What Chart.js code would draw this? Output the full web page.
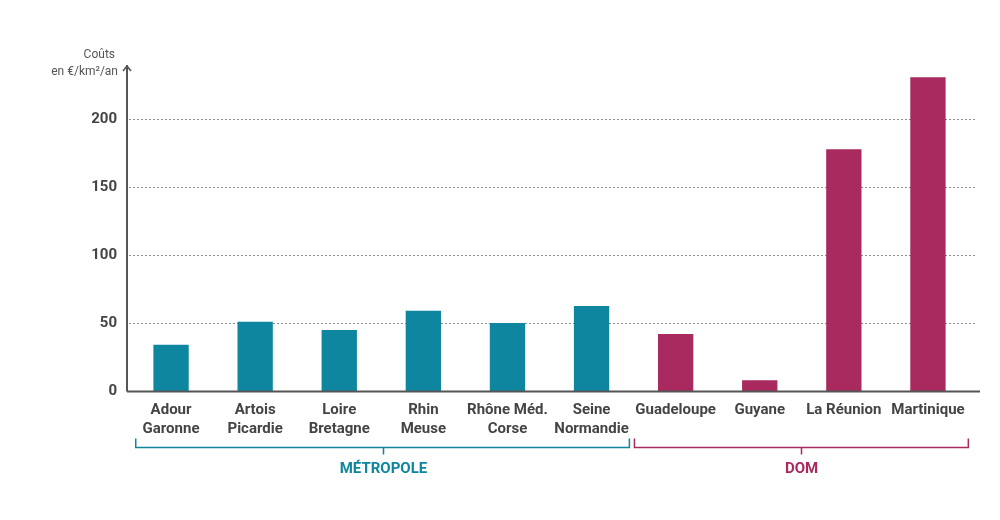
<!DOCTYPE html>
<html>
<head>
<meta charset="utf-8">
<script src="https://cdn.jsdelivr.net/npm/chart.js@4"></script>
<style>
    html, body { margin: 0; padding: 0; background: #fff; }
    #wrap { width: 1000px; height: 520px; }
</style>
</head>
<body>
<div id="wrap"><canvas id="costGraph" width="1000" height="520"></canvas></div>
<script>
const regions = [
    ["Adour", "Garonne"],
    ["Artois", "Picardie"],
    ["Loire", "Bretagne"],
    ["Rhin", "Meuse"],
    ["Rhône Méd.", "Corse"],
    ["Seine", "Normandie"],
    "Guadeloupe",
    "Guyane",
    "La Réunion",
    "Martinique"
];
const costs = [34, 51, 45, 59, 50, 62.5, 42, 8, 178, 231];
const groups = ["métropole", "métropole", "métropole", "métropole", "métropole", "métropole", "dom", "dom", "dom", "dom"];
const yTicks = [0, 50, 100, 150, 200];

const teal = "#0e86a0";
const crimson = "#a82a5f";
const textGrey = "#444444";

// brackets under the axis, start/end in category index units
const brackets = [
    { label: "MÉTROPOLE", from: -0.42, to: 5.45, color: teal },
    { label: "DOM", from: 5.51, to: 9.48, color: crimson }
];

const decorations = {
    id: "decorations",
    beforeDatasetsDraw(chart) {
        const ctx = chart.ctx;
        const area = chart.chartArea;
        const y = chart.scales.y;
        ctx.save();
        ctx.strokeStyle = "#8a8a8a";
        ctx.lineWidth = 1;
        ctx.setLineDash([2, 2]);
        yTicks.forEach(v => {
            if (v === 0) return;
            const py = Math.round(y.getPixelForValue(v)) + 0.5;
            ctx.beginPath();
            ctx.moveTo(area.left, py);
            ctx.lineTo(area.right + 6, py);
            ctx.stroke();
        });
        ctx.restore();
    },
    afterDatasetsDraw(chart) {
        const ctx = chart.ctx;
        const area = chart.chartArea;
        const x = chart.scales.x;
        const y = chart.scales.y;
        const base = Math.round(y.getPixelForValue(0)) + 0.5;
        ctx.save();
        ctx.strokeStyle = "#555555";
        ctx.lineWidth = 2;
        // x axis
        ctx.beginPath();
        ctx.moveTo(area.left - 2, base);
        ctx.lineTo(area.right + 10, base);
        ctx.stroke();
        // y axis with arrow
        const ax = area.left - 2;
        ctx.beginPath();
        ctx.moveTo(ax, base);
        ctx.lineTo(ax, area.top);
        ctx.stroke();
        ctx.lineWidth = 1.6;
        ctx.beginPath();
        ctx.moveTo(ax - 4, area.top + 6);
        ctx.lineTo(ax, area.top + 1);
        ctx.lineTo(ax + 4, area.top + 6);
        ctx.stroke();

        // axis title
        ctx.fillStyle = "#555555";
        ctx.font = "12px Roboto";
        ctx.textAlign = "right";
        ctx.textBaseline = "middle";
        ctx.fillText("Coûts", ax - 12, area.top - 10);
        ctx.fillText("en €/km²/an", ax - 9, area.top + 7);

        // group brackets
        const by = 447.5;
        brackets.forEach(b => {
            const x1 = x.getPixelForValue(b.from);
            const x2 = x.getPixelForValue(b.to);
            const mid = Math.round((x1 + x2) / 2) + 0.5;
            ctx.strokeStyle = b.color;
            ctx.lineWidth = 1.5;
            ctx.beginPath();
            ctx.moveTo(x1, by - 9);
            ctx.lineTo(x1, by);
            ctx.lineTo(x2, by);
            ctx.lineTo(x2, by - 9);
            ctx.moveTo(mid, by);
            ctx.lineTo(mid, by + 7);
            ctx.stroke();
            ctx.fillStyle = b.color;
            ctx.font = "bold 15px Roboto";
            ctx.textAlign = "center";
            ctx.fillText(b.label, mid, 469);
        });
        ctx.restore();
    }
};

const costGraph = document.getElementById("costGraph");

const costChart = new Chart(costGraph, {
    type: "bar",
    data: {
        labels: regions,
        datasets: [{
            label: "Coûts",
            data: costs,
            backgroundColor: groups.map(g => g === "dom" ? crimson : teal),
            barPercentage: 0.42,
            categoryPercentage: 1
        }]
    },
    options: {
        responsive: false,
        animation: false,
        layout: {
            padding: { top: 65, right: 30, bottom: 0, left: 0 }
        },
        plugins: {
            legend: { display: false },
            tooltip: { enabled: false }
        },
        scales: {
            x: {
                grid: { display: false, drawTicks: false },
                border: { display: false },
                ticks: {
                    color: textGrey,
                    padding: 9,
                    maxRotation: 0,
                    autoSkip: false,
                    font: { family: "Roboto", size: 15, weight: "bold", lineHeight: 1.3 }
                },
                afterFit: scale => { scale.height = 129; }
            },
            y: {
                min: 0,
                max: 240,
                grid: { display: false, drawTicks: false },
                border: { display: false },
                afterBuildTicks: scale => {
                    scale.ticks = yTicks.map(v => ({ value: v }));
                },
                ticks: {
                    color: textGrey,
                    padding: 12,
                    font: { family: "Roboto", size: 15, weight: "bold" }
                },
                afterFit: scale => { scale.width = 129; }
            }
        }
    },
    plugins: [decorations]
});
</script>
</body>
</html>
